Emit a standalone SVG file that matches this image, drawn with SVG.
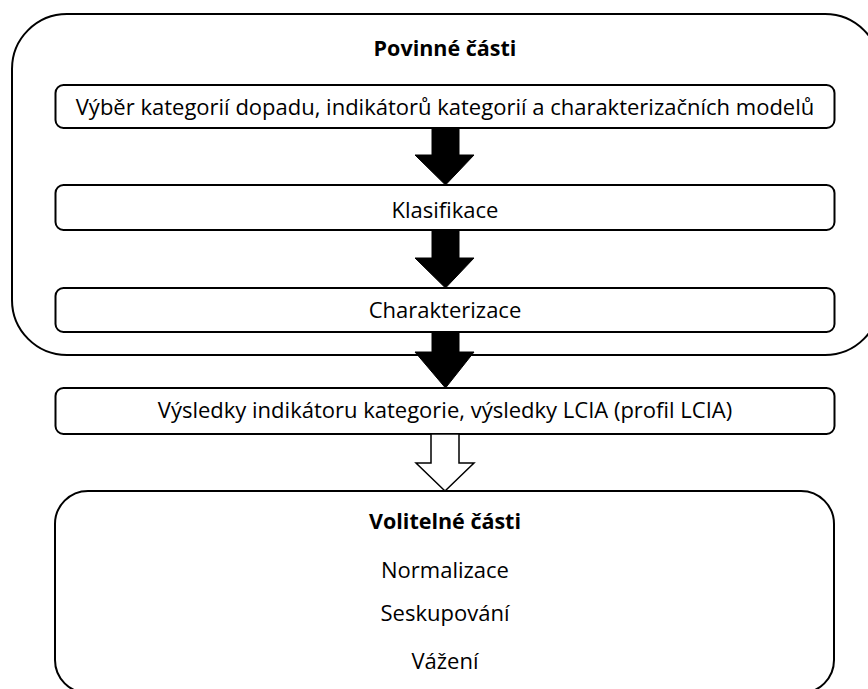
<svg xmlns="http://www.w3.org/2000/svg" width="868" height="689" viewBox="0 0 868 689">
<style>
.box{fill:#fff;stroke:#000;stroke-width:2}
.t{font-family:"Open Sans","Liberation Sans",Arial,sans-serif;font-size:22px;fill:#000;text-anchor:middle}
.b{font-weight:bold;font-size:21.5px}
.solid{fill:#000;stroke:#000;stroke-width:1}
.hollow{fill:#fff;stroke:#000;stroke-width:1.5;stroke-linejoin:miter}
</style>
<rect width="868" height="689" fill="#fff"/>
<g id="povinne">
<rect class="box" x="12" y="14" width="868" height="341" rx="55"/>
<text class="t b" x="445" y="56">Povinné části</text>
</g>
<g id="vyber">
<rect class="box" x="55.5" y="85" width="779" height="43" rx="8"/>
<text class="t" x="445" y="115">Výběr kategorií dopadu, indikátorů kategorií a charakterizačních modelů</text>
</g>
<g id="klasifikace">
<rect class="box" x="55.5" y="185" width="779" height="45" rx="8"/>
<text class="t" x="445" y="218">Klasifikace</text>
</g>
<g id="charakterizace">
<rect class="box" x="55.5" y="288" width="779" height="44" rx="8"/>
<text class="t" x="445" y="318">Charakterizace</text>
</g>
<g id="vysledky">
<rect class="box" x="55.5" y="388" width="779" height="46" rx="8"/>
<text class="t" x="445" y="418">Výsledky indikátoru kategorie, výsledky LCIA (profil LCIA)</text>
</g>
<g id="volitelne">
<rect class="box" x="55" y="491" width="779" height="202" rx="33"/>
<text class="t b" x="445" y="529">Volitelné části</text>
<text class="t" x="445" y="578">Normalizace</text>
<text class="t" x="445" y="621">Seskupování</text>
<text class="t" x="445" y="669">Vážení</text>
</g>
<g id="connectors">
<polygon class="solid" points="432,128 459,128 459,155 474,155 445.5,185 415,155 432,155"/>
<polygon class="solid" points="432,230 459,230 459,258 474,258 445.5,288 415,258 432,258"/>
<polygon class="solid" points="432,332 459,332 459,352 474,352 445.5,388 415,352 432,352"/>
<polygon class="hollow" points="431,434 459,434 459,463 474,463 445,491 416,463 431,463"/>
</g>
</svg>
